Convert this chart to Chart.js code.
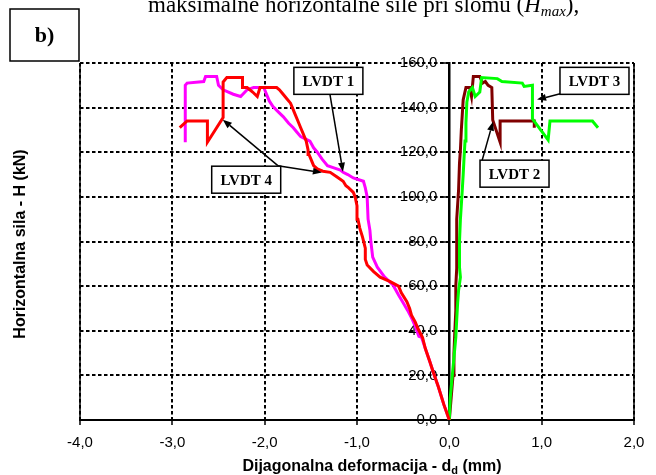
<!DOCTYPE html>
<html><head><meta charset="utf-8">
<script src="https://cdn.jsdelivr.net/npm/chart.js@4.4.1/dist/chart.umd.min.js"></script>
<style>html,body{margin:0;padding:0;background:#fff;}canvas{display:block;}</style>
</head><body>
<canvas id="c" width="656" height="475"></canvas>
<script>
// ---------- data ----------
const xTickValues = [-4, -3, -2, -1, 0, 1, 2];
const xTickLabels = ['-4,0', '-3,0', '-2,0', '-1,0', '0,0', '1,0', '2,0'];
const yTickValues = [0, 20, 40, 60, 80, 100, 120, 140, 160];
const yTickLabels = ['0,0', '20,0', '40,0', '60,0', '80,0', '100,0', '120,0', '140,0', '160,0'];
const seriesNames = ['LVDT 1', 'LVDT 2', 'LVDT 3', 'LVDT 4'];

const lvdt1X = [0, -0.06, -0.12, -0.17, -0.21, -0.26, -0.30, -0.33, -0.37, -0.40, -0.45, -0.50, -0.55, -0.61, -0.70, -0.78, -0.83, -0.85, -0.86, -0.88, -0.89, -0.91, -0.93, -1.04, -1.10, -1.15, -1.18, -1.25, -1.32, -1.38, -1.43, -1.47, -1.51, -1.56, -1.61, -1.65, -1.69, -1.74, -1.80, -1.85, -1.91, -1.95, -1.98, -2.01, -2.12, -2.19, -2.26, -2.34, -2.45, -2.50, -2.52, -2.64, -2.66, -2.84, -2.86, -2.86];
const lvdt1Y = [0, 7, 15, 21, 26, 32, 37, 37.5, 42, 45, 49, 52.5, 56, 60.5, 64, 68.5, 73, 80, 85, 90, 100, 104, 107, 108.5, 110, 111, 112, 113, 114, 117, 120, 122, 125, 126, 127, 129, 131, 133, 136, 138, 140.5, 143, 146, 149, 149, 148, 145, 146, 148, 150, 154, 154, 151.7, 151, 150, 124.5];

const lvdt2X = [0, 0.02, 0.04, 0.05, 0.06, 0.07, 0.07, 0.08, 0.08, 0.08, 0.10, 0.11, 0.12, 0.13, 0.15, 0.18, 0.22, 0.24, 0.26, 0.33, 0.36, 0.39, 0.42, 0.46, 0.47, 0.55, 0.55, 0.92, 0.92];
const lvdt2Y = [0, 10, 20, 30, 40, 49, 60, 68, 80, 90, 103, 115, 121, 130, 143.5, 149, 149, 145, 154, 154, 151, 151.7, 150, 149, 134.5, 124.5, 134, 134, 131];

const lvdt3X = [0, 0.01, 0.03, 0.05, 0.07, 0.08, 0.09, 0.10, 0.12, 0.11, 0.11, 0.12, 0.14, 0.15, 0.16, 0.17, 0.18, 0.19, 0.21, 0.25, 0.28, 0.33, 0.35, 0.52, 0.57, 0.79, 0.81, 0.90, 0.90, 1.07, 1.09, 1.55, 1.61];
const lvdt3Y = [0, 10, 19, 28, 37, 45, 52.5, 58, 64, 68.5, 80, 90, 103, 110, 118, 125, 133, 142.5, 147, 149, 145, 147, 153.5, 153, 151.7, 151, 149.5, 150, 135, 125.5, 134, 134, 131];

const lvdt4X = [0, -0.06, -0.12, -0.17, -0.21, -0.26, -0.29, -0.34, -0.37, -0.41, -0.43, -0.46, -0.52, -0.55, -0.64, -0.75, -0.82, -0.89, -0.91, -0.91, -0.94, -0.97, -0.99, -1.00, -1.02, -1.04, -1.09, -1.12, -1.15, -1.22, -1.29, -1.37, -1.43, -1.47, -1.49, -1.52, -1.53, -1.55, -1.58, -1.61, -1.64, -1.67, -1.70, -1.72, -1.76, -1.80, -1.84, -1.87, -2.05, -2.08, -2.13, -2.19, -2.24, -2.24, -2.41, -2.45, -2.45, -2.62, -2.62, -2.84, -2.92];
const lvdt4Y = [0, 7, 15, 21, 26, 32, 37, 41, 44, 47, 50, 53, 57, 60, 62, 64, 66.5, 69.5, 72, 77, 82, 86, 90, 96, 100, 102, 104, 105, 107, 109, 111, 111.5, 112.5, 114, 116, 119, 121, 125, 128, 131, 134, 137, 140, 142, 144, 146, 148, 149, 149, 145, 147, 149, 149, 153.5, 153.5, 151.5, 135.5, 124.5, 134, 134, 131];

// label boxes (centre in data units) and arrows [fromX, fromY, toX, toY] in data units
const labelCentersX = [-1.31, 0.706, 1.572, -2.2];
const labelCentersY = [152, 110.4, 152, 107.7];
const labelArrows = [
  [[-1.293, 145.9, -1.152, 111.3]],
  [[0.354, 116.2, 0.473, 133.7]],
  [[1.21, 146.3, 0.95, 143.6]],
  [[-1.857, 114, -2.453, 134.6], [-1.857, 114, -1.38, 110.9]]
];

const xTitle = 'Dijagonalna deformacija - d';
const xTitleSub = 'd';
const xTitleEnd = ' (mm)';
const yTitle = 'Horizontalna sila - H (kN)';
const panelLabel = 'b)';
const topText = 'maksimalne horizontalne sile pri slomu (';
const topTextH = 'H';
const topTextSub = 'max';
const topTextEnd = '),';

// ---------- rendering ----------
const SANS = '"Liberation Sans", Arial, sans-serif';
const SERIF = '"Liberation Serif", "Times New Roman", serif';
const colors = ['#FF00FF', '#800000', '#00FF00', '#FF0000'];
const orders = [3, 2, 1, 0];
const xs = [lvdt1X, lvdt2X, lvdt3X, lvdt4X];
const ys = [lvdt1Y, lvdt2Y, lvdt3Y, lvdt4Y];

function arrow(ctx, x1, y1, x2, y2) {
  const ang = Math.atan2(y2 - y1, x2 - x1);
  const L = 9, W = 3.5;
  const bx = x2 - L * Math.cos(ang), by = y2 - L * Math.sin(ang);
  ctx.beginPath();
  ctx.moveTo(x1, y1); ctx.lineTo(bx, by); ctx.stroke();
  ctx.beginPath();
  ctx.moveTo(x2, y2);
  ctx.lineTo(bx + W * Math.sin(ang), by - W * Math.cos(ang));
  ctx.lineTo(bx - W * Math.sin(ang), by + W * Math.cos(ang));
  ctx.closePath(); ctx.fill();
}

const decor = {
  id: 'decor',
  beforeDatasetsDraw(chart) {
    const {ctx, chartArea: a, scales: {x, y}} = chart;
    ctx.save();
    ctx.strokeStyle = '#000';
    ctx.lineWidth = 1.5;
    ctx.beginPath();
    const lx = x.getPixelForValue(xTickValues[0]);
    const rx = x.getPixelForValue(xTickValues[xTickValues.length - 1]);
    ctx.moveTo(lx, a.top); ctx.lineTo(lx, a.bottom);
    ctx.moveTo(rx, a.top); ctx.lineTo(rx, a.bottom);
    ctx.stroke();
    ctx.fillStyle = '#000';
    ctx.font = '15px ' + SANS;
    ctx.textAlign = 'right';
    ctx.textBaseline = 'middle';
    const ax = x.getPixelForValue(0);
    yTickValues.forEach((v, i) => ctx.fillText(yTickLabels[i], ax - 12, y.getPixelForValue(v)));
    ctx.restore();
  },
  afterDatasetsDraw(chart) {
    const {ctx, scales: {x, y}} = chart;
    ctx.save();
    ctx.strokeStyle = '#000'; ctx.fillStyle = '#000'; ctx.lineWidth = 1.5;
    labelArrows.forEach(list => list.forEach(a => {
      arrow(ctx, x.getPixelForValue(a[0]), y.getPixelForValue(a[1]), x.getPixelForValue(a[2]), y.getPixelForValue(a[3]));
    }));
    ctx.font = 'bold 15px ' + SERIF;
    ctx.textAlign = 'center'; ctx.textBaseline = 'middle';
    seriesNames.forEach((n, i) => {
      const cx = x.getPixelForValue(labelCentersX[i]), cy = y.getPixelForValue(labelCentersY[i]);
      const w = 69, h = 27;
      ctx.fillStyle = '#fff';
      ctx.fillRect(cx - w / 2, cy - h / 2, w, h);
      ctx.strokeRect(cx - w / 2, cy - h / 2, w, h);
      ctx.fillStyle = '#000';
      ctx.fillText(n, cx, cy + 1);
    });
    ctx.restore();
  },
  afterDraw(chart) {
    const {ctx, chartArea: a} = chart;
    ctx.save();
    ctx.fillStyle = '#000'; ctx.strokeStyle = '#000';
    // y title
    ctx.font = 'bold 16px ' + SANS;
    ctx.textAlign = 'center'; ctx.textBaseline = 'middle';
    ctx.save();
    ctx.translate(21, 244);
    ctx.rotate(-Math.PI / 2);
    ctx.fillText(yTitle, 0, 0);
    ctx.restore();
    // x title with subscript
    ctx.textAlign = 'left'; ctx.textBaseline = 'alphabetic';
    ctx.font = 'bold 16px ' + SANS;
    const w1 = ctx.measureText(xTitle).width;
    ctx.font = 'bold 11px ' + SANS;
    const w2 = ctx.measureText(xTitleSub).width;
    ctx.font = 'bold 16px ' + SANS;
    const w3 = ctx.measureText(xTitleEnd).width;
    let tx = 372 - (w1 + w2 + w3) / 2;
    const ty = 471;
    ctx.fillText(xTitle, tx, ty); tx += w1;
    ctx.font = 'bold 11px ' + SANS; ctx.fillText(xTitleSub, tx, ty + 3); tx += w2;
    ctx.font = 'bold 16px ' + SANS; ctx.fillText(xTitleEnd, tx, ty);
    // panel label box
    ctx.lineWidth = 1.5;
    ctx.strokeRect(10, 9, 69, 52);
    ctx.font = 'bold 22px ' + SERIF;
    ctx.textAlign = 'center'; ctx.textBaseline = 'middle';
    ctx.fillText(panelLabel, 44.5, 36);
    // cut-off caption at the top
    ctx.textAlign = 'left'; ctx.textBaseline = 'alphabetic';
    let px = 148; const py = 12;
    ctx.font = '23px ' + SERIF;
    ctx.fillText(topText, px, py); px += ctx.measureText(topText).width;
    ctx.font = 'italic 23px ' + SERIF;
    ctx.fillText(topTextH, px, py); px += ctx.measureText(topTextH).width;
    ctx.font = 'italic 15px ' + SERIF;
    ctx.fillText(topTextSub, px, py + 4); px += ctx.measureText(topTextSub).width;
    ctx.font = '23px ' + SERIF;
    ctx.fillText(topTextEnd, px, py);
    ctx.restore();
  }
};

new Chart(document.getElementById('c'), {
  type: 'scatter',
  data: {
    datasets: seriesNames.map((n, i) => ({
      label: n,
      data: xs[i].map((v, k) => ({x: v, y: ys[i][k]})),
      showLine: true,
      borderColor: colors[i],
      backgroundColor: colors[i],
      borderWidth: 3,
      pointRadius: 0,
      tension: 0,
      order: orders[i]
    }))
  },
  options: {
    responsive: false,
    animation: false,
    devicePixelRatio: 1,
    events: [],
    layout: {padding: {left: 80, right: 22, top: 63, bottom: 0}},
    plugins: {legend: {display: false}, tooltip: {enabled: false}, title: {display: false}},
    scales: {
      x: {
        type: 'linear', position: 'bottom', min: -4, max: 2,
        afterFit: s => { s.height = 55; },
        afterBuildTicks: s => { s.ticks = xTickValues.map(v => ({value: v})); },
        ticks: {
          callback: v => xTickLabels[xTickValues.indexOf(v)],
          font: {family: SANS, size: 15}, color: '#000', padding: 9, maxRotation: 0, autoSkip: false
        },
        grid: {color: '#000', lineWidth: 2, tickLength: 5, tickColor: '#000', tickWidth: 1.5, tickBorderDash: []},
        border: {display: true, color: '#000', width: 2, dash: [3.5, 2.5]}
      },
      y: {
        type: 'linear', position: {x: 0}, min: 0, max: 160,
        afterBuildTicks: s => { s.ticks = yTickValues.map(v => ({value: v})); },
        ticks: {display: false},
        grid: {color: '#000', lineWidth: 2, tickLength: 5, tickColor: '#000', tickWidth: 1.5, tickBorderDash: []},
        border: {display: true, color: '#000', width: 2.5, dash: [3.5, 2.5]}
      }
    }
  },
  plugins: [decor]
});
</script>
</body></html>
